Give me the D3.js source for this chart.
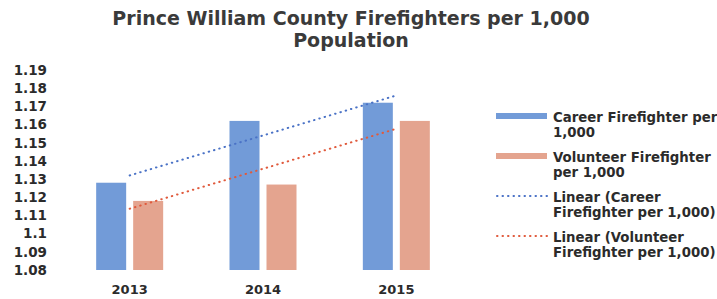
<!DOCTYPE html>
<html>
<head>
<meta charset="utf-8">
<script src="https://cdn.jsdelivr.net/npm/d3@7"></script>
<style>
  body { margin: 0; background: #fff; }
  text { font-family: "DejaVu Sans", sans-serif; font-weight: bold; fill: #2b2b2b; }
</style>
</head>
<body>
<svg id="chart" width="717" height="299"></svg>
<script>
const years = ['2013', '2014', '2015'];
const career = [1.128, 1.162, 1.172];
const volunteer = [1.118, 1.127, 1.162];
const yTicks = [1.08, 1.09, 1.1, 1.11, 1.12, 1.13, 1.14, 1.15, 1.16, 1.17, 1.18, 1.19];
const legendLabels = [
  ['Career Firefighter per', '1,000'],
  ['Volunteer Firefighter', 'per 1,000'],
  ['Linear (Career', 'Firefighter per 1,000)'],
  ['Linear (Volunteer', 'Firefighter per 1,000)']
];

const colors = {
  career: '#729bd8',
  volunteer: '#e4a48f',
  careerLine: '#4a72c6',
  volunteerLine: '#e05a3c'
};

const svg = d3.select('#chart');

const x = d3.scaleBand()
  .domain(years)
  .range([63, 463]);

const y = d3.scaleLinear()
  .domain([1.08, 1.19])
  .range([270, 70]);

// title
svg.append('text')
  .attr('x', 351)
  .attr('y', 25)
  .attr('text-anchor', 'middle')
  .style('font-size', '19px')
  .style('fill', '#3a3a3a')
  .text('Prince William County Firefighters per 1,000');

svg.append('text')
  .attr('x', 351)
  .attr('y', 47)
  .attr('text-anchor', 'middle')
  .style('font-size', '19px')
  .style('fill', '#3a3a3a')
  .text('Population');

// y axis labels, no line
const yAxis = svg.append('g')
  .attr('transform', 'translate(47,0)')
  .call(d3.axisLeft(y).tickValues(yTicks).tickSize(0).tickPadding(0)
    .tickFormat(d => d3.format('')(+d.toFixed(2))));
yAxis.select('.domain').remove();
yAxis.selectAll('text')
  .style('font-size', '13.5px')
  .style('font-family', '"DejaVu Sans", sans-serif')
  .style('fill', '#2b2b2b');

// x axis labels
const xAxis = svg.append('g')
  .attr('transform', 'translate(0,282)')
  .call(d3.axisBottom(x).tickSize(0).tickPadding(0));
xAxis.select('.domain').remove();
xAxis.selectAll('text')
  .attr('dy', '0.9em')
  .style('font-size', '13px')
  .style('font-family', '"DejaVu Sans", sans-serif')
  .style('fill', '#2b2b2b');

// bars
const barW = 30;
const gap = 7;
const series = [
  { key: 'career', values: career, offset: -gap / 2 - barW },
  { key: 'volunteer', values: volunteer, offset: gap / 2 }
];

series.forEach(s => {
  svg.append('g')
    .selectAll('rect')
    .data(s.values)
    .enter()
    .append('rect')
    .attr('x', (d, i) => x(years[i]) + x.bandwidth() / 2 + s.offset)
    .attr('y', d => y(d))
    .attr('width', barW)
    .attr('height', d => y(1.08) - y(d))
    .attr('fill', colors[s.key]);
});

// linear trend lines (least squares over category index)
function linearFit (vals) {
  const n = vals.length;
  const xs = vals.map((v, i) => i + 1);
  const mx = d3.mean(xs);
  const my = d3.mean(vals);
  const slope = d3.sum(xs.map((xv, i) => (xv - mx) * (vals[i] - my))) /
    d3.sum(xs.map(xv => (xv - mx) * (xv - mx)));
  const icpt = my - slope * mx;
  return [1, n].map(xv => ({ idx: xv - 1, value: icpt + slope * xv }));
}

const line = d3.line()
  .x(d => x(years[d.idx]) + x.bandwidth() / 2)
  .y(d => y(d.value));

[[career, colors.careerLine], [volunteer, colors.volunteerLine]].forEach(([vals, c]) => {
  svg.append('path')
    .attr('d', line(linearFit(vals)))
    .attr('fill', 'none')
    .attr('stroke', c)
    .attr('stroke-width', 2)
    .attr('stroke-linecap', 'round')
    .attr('stroke-dasharray', '0.5,5');
});

// legend
const legend = svg.append('g').attr('transform', 'translate(496,0)');
const legendY = [116, 156, 196, 236];
const legendMarks = [
  { type: 'rect', color: colors.career },
  { type: 'rect', color: colors.volunteer },
  { type: 'line', color: colors.careerLine },
  { type: 'line', color: colors.volunteerLine }
];

legendMarks.forEach((m, i) => {
  const ly = legendY[i];
  if (m.type === 'rect') {
    legend.append('rect')
      .attr('x', 0)
      .attr('y', ly - 3)
      .attr('width', 51)
      .attr('height', 6)
      .attr('fill', m.color);
  } else {
    legend.append('line')
      .attr('x1', 1)
      .attr('x2', 51)
      .attr('y1', ly)
      .attr('y2', ly)
      .attr('stroke', m.color)
      .attr('stroke-width', 2)
      .attr('stroke-linecap', 'round')
      .attr('stroke-dasharray', '0.5,5');
  }
  const t = legend.append('text')
    .attr('x', 57)
    .attr('y', ly + 6)
    .style('font-size', '13.3px');
  t.append('tspan').text(legendLabels[i][0]);
  t.append('tspan').attr('x', 57).attr('dy', 15).text(legendLabels[i][1]);
});
</script>
</body>
</html>
